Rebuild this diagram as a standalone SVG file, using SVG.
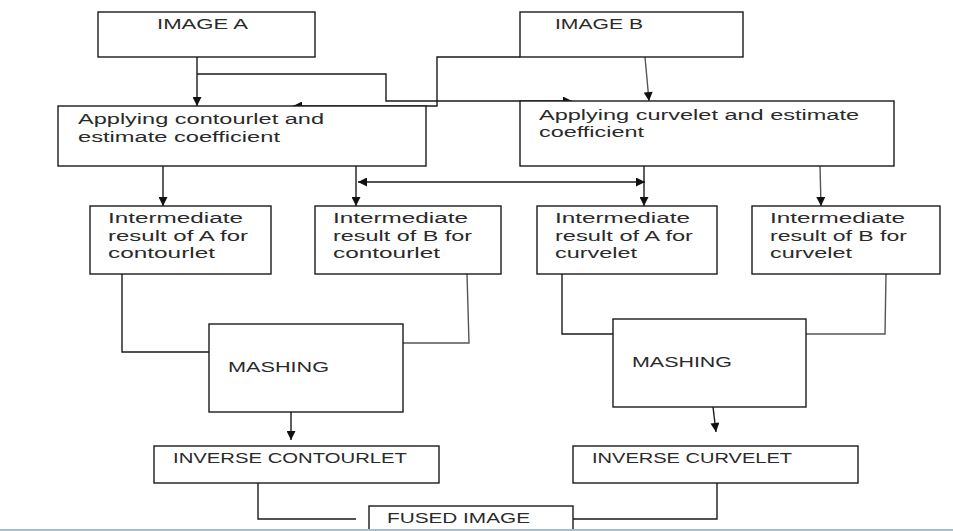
<svg xmlns="http://www.w3.org/2000/svg" width="953" height="531" viewBox="0 0 953 531">
<defs>
<marker id="ah" viewBox="0 0 10 10" refX="10" refY="5" markerWidth="10" markerHeight="9" markerUnits="userSpaceOnUse" orient="auto-start-reverse">
<path d="M0,0 L10,5 L0,10 z" fill="#111"/>
</marker>
<style>
.box{fill:#fff;stroke:#1a1a1a;stroke-width:1.4}
.t{font-family:"Liberation Sans",Arial,sans-serif;font-size:14px;fill:#2a2a2a}
.c{fill:none;stroke:#1a1a1a;stroke-width:1.4}
.g{fill:none;stroke:#555;stroke-width:1.4}
</style>
</defs>
<rect width="953" height="531" fill="#fff"/>

<g id="connectors">
<path class="c" d="M197,57 V106" marker-end="url(#ah)"/>
<path class="c" d="M197,74 H386 V101 H572" marker-end="url(#ah)"/>
<path class="c" d="M520,57 H437 V106 H293" marker-end="url(#ah)"/>
<path class="g" d="M645,57 L649,101" marker-end="url(#ah)"/>
<path class="c" d="M163,166 V206" marker-end="url(#ah)"/>
<path class="c" d="M356,166 V206" marker-end="url(#ah)"/>
<path class="c" d="M358,182 H645" marker-start="url(#ah)" marker-end="url(#ah)"/>
<path class="c" d="M644,166 V206" marker-end="url(#ah)"/>
<path class="g" d="M820,166 L821,206" marker-end="url(#ah)"/>
<path class="c" d="M122,274 V352 H209"/>
<path class="g" d="M467,274 L469,343 H403"/>
<path class="c" d="M562,274 V334 H613"/>
<path class="g" d="M886,274 L885,334 H806"/>
<path class="c" d="M291,412 V440" marker-end="url(#ah)"/>
<path class="c" d="M713,407 L716,432" marker-end="url(#ah)"/>
<path class="c" d="M258,483 V519 H356"/>
<path class="c" d="M717,483 V519 H573"/>
</g>

<g id="imageA">
<rect class="box" x="98" y="12" width="217" height="45"/>
<text class="t" x="157" y="29" textLength="91" lengthAdjust="spacingAndGlyphs">IMAGE A</text>
</g>
<g id="imageB">
<rect class="box" x="520" y="12" width="223" height="45"/>
<text class="t" x="555" y="29" textLength="88" lengthAdjust="spacingAndGlyphs">IMAGE B</text>
</g>
<g id="applyContourlet">
<rect class="box" x="58" y="106" width="368" height="60"/>
<text class="t" x="78" y="124" textLength="246" lengthAdjust="spacingAndGlyphs">Applying contourlet and</text>
<text class="t" x="78" y="142" textLength="202" lengthAdjust="spacingAndGlyphs">estimate coefficient</text>
</g>
<g id="applyCurvelet">
<rect class="box" x="520" y="101" width="374" height="65"/>
<text class="t" x="539" y="120" textLength="320" lengthAdjust="spacingAndGlyphs">Applying curvelet and estimate</text>
<text class="t" x="539" y="137" textLength="105" lengthAdjust="spacingAndGlyphs">coefficient</text>
</g>
<g id="intAContourlet">
<rect class="box" x="90" y="206" width="181" height="68"/>
<text class="t" x="108" y="223" textLength="135" lengthAdjust="spacingAndGlyphs">Intermediate</text>
<text class="t" x="108" y="241" textLength="140" lengthAdjust="spacingAndGlyphs">result of A for</text>
<text class="t" x="108" y="258" textLength="107" lengthAdjust="spacingAndGlyphs">contourlet</text>
</g>
<g id="intBContourlet">
<rect class="box" x="315" y="206" width="186" height="68"/>
<text class="t" x="333" y="223" textLength="135" lengthAdjust="spacingAndGlyphs">Intermediate</text>
<text class="t" x="333" y="241" textLength="139" lengthAdjust="spacingAndGlyphs">result of B for</text>
<text class="t" x="333" y="258" textLength="107" lengthAdjust="spacingAndGlyphs">contourlet</text>
</g>
<g id="intACurvelet">
<rect class="box" x="537" y="206" width="180" height="68"/>
<text class="t" x="555" y="223" textLength="135" lengthAdjust="spacingAndGlyphs">Intermediate</text>
<text class="t" x="555" y="241" textLength="138" lengthAdjust="spacingAndGlyphs">result of A for</text>
<text class="t" x="555" y="258" textLength="82" lengthAdjust="spacingAndGlyphs">curvelet</text>
</g>
<g id="intBCurvelet">
<rect class="box" x="752" y="206" width="188" height="68"/>
<text class="t" x="770" y="223" textLength="135" lengthAdjust="spacingAndGlyphs">Intermediate</text>
<text class="t" x="770" y="241" textLength="137" lengthAdjust="spacingAndGlyphs">result of B for</text>
<text class="t" x="770" y="258" textLength="82" lengthAdjust="spacingAndGlyphs">curvelet</text>
</g>
<g id="mashing1">
<rect class="box" x="209" y="324" width="194" height="88"/>
<text class="t" x="228" y="372" textLength="101" lengthAdjust="spacingAndGlyphs">MASHING</text>
</g>
<g id="mashing2">
<rect class="box" x="613" y="319" width="193" height="88"/>
<text class="t" x="632" y="367" textLength="100" lengthAdjust="spacingAndGlyphs">MASHING</text>
</g>
<g id="inverseContourlet">
<rect class="box" x="154" y="446" width="285" height="37"/>
<text class="t" x="173" y="463" textLength="234" lengthAdjust="spacingAndGlyphs">INVERSE CONTOURLET</text>
</g>
<g id="inverseCurvelet">
<rect class="box" x="573" y="446" width="285" height="37"/>
<text class="t" x="592" y="463" textLength="200" lengthAdjust="spacingAndGlyphs">INVERSE CURVELET</text>
</g>
<g id="fusedImage">
<rect class="box" x="369" y="506" width="204" height="30"/>
<text class="t" x="387" y="523" textLength="143" lengthAdjust="spacingAndGlyphs">FUSED IMAGE</text>
</g>
<rect x="0" y="529" width="953" height="2" fill="#a9bcd0"/>
</svg>
